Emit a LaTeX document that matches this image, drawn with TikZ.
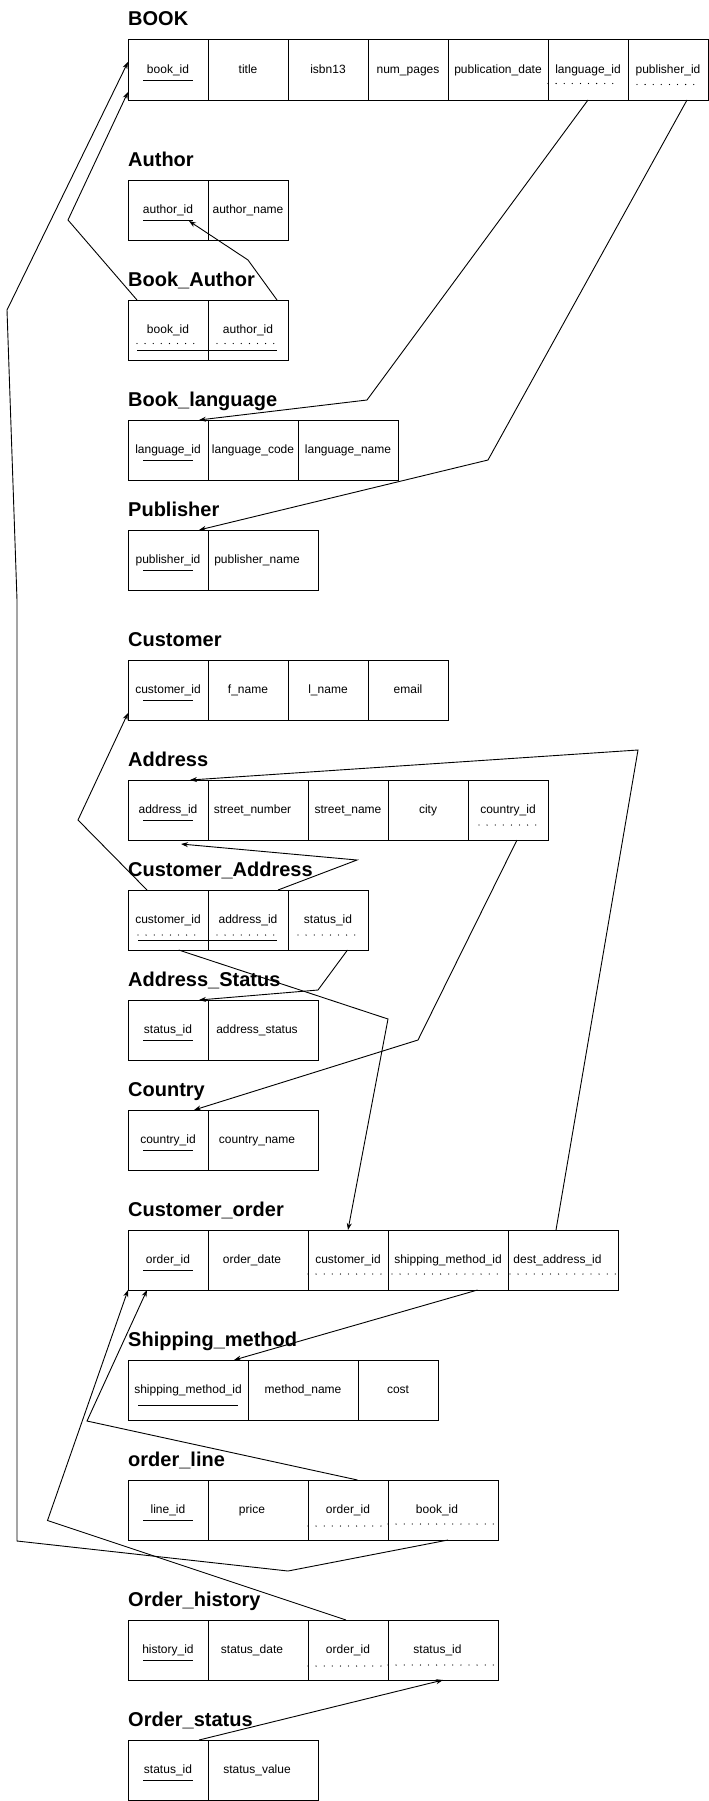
\documentclass[tikz,border=0pt]{standalone}
\usepackage{fontspec}
\setmainfont{Liberation Sans}
\usetikzlibrary{positioning,arrows.meta}

\begin{document}
\begin{tikzpicture}[
  x=1pt, y=-1pt,
  every node/.style={font=\fontsize{12}{14}\selectfont},
  cell/.style={draw, line width=1pt, outer sep=0pt, inner sep=0pt, anchor=north west,
               minimum width=#1, minimum height=60pt, text height=9pt, text depth=2pt},
  cell/.default=80pt,
  pad/.style={execute at end node={\hspace*{#1}}},
  ttl/.style={font=\fontsize{20}{24}\selectfont\bfseries, anchor=base west, inner sep=0pt},
  pk/.style={line width=1pt},
  fk/.style={line width=1.3pt, line cap=round, dash pattern=on 0pt off 8.1pt},
  link/.style={line width=0.9pt, -{Stealth[length=7pt, width=5pt]}}
]
\useasboundingbox (0,0) rectangle (709,1801);

% ---- BOOK ----
\node[ttl] (t-book) at (128,26) {BOOK};
\node[cell] (bk-id) at (128,40) {book\_id};
\node[cell, right=0pt of bk-id] (bk-title) {title};
\node[cell, right=0pt of bk-title] (bk-isbn) {isbn13};
\node[cell, right=0pt of bk-isbn] (bk-pages) {num\_pages};
\node[cell=100pt, right=0pt of bk-pages] (bk-date) {publication\_date};
\node[cell, right=0pt of bk-date] (bk-lang) {language\_id};
\node[cell, right=0pt of bk-lang] (bk-pub) {publisher\_id};

% ---- Author / Book_Author ----
\node[ttl] (t-auth) at (128,166) {Author};
\node[cell] (au-id) at (128,180) {author\_id};
\node[cell, right=0pt of au-id] (au-name) {author\_name};

\node[ttl] (t-bkau) at (128,286) {Book\_Author};
\node[cell] (ba-book) at (128,300) {book\_id};
\node[cell, right=0pt of ba-book] (ba-auth) {author\_id};

% ---- Book_language / Publisher ----
\node[ttl] (t-lang) at (128,406) {Book\_language};
\node[cell] (la-id) at (128,420) {language\_id};
\node[cell=90pt, right=0pt of la-id] (la-code) {language\_code};
\node[cell=100pt, right=0pt of la-code] (la-name) {language\_name};

\node[ttl] (t-pub) at (128,516) {Publisher};
\node[cell] (pu-id) at (128,530) {publisher\_id};
\node[cell=110pt, pad=12pt, right=0pt of pu-id] (pu-name) {publisher\_name};

% ---- Customer / Address ----
\node[ttl] (t-cust) at (128,646) {Customer};
\node[cell] (cu-id) at (128,660) {customer\_id};
\node[cell, right=0pt of cu-id] (cu-fn) {f\_name};
\node[cell, right=0pt of cu-fn] (cu-ln) {l\_name};
\node[cell, right=0pt of cu-ln] (cu-mail) {email};

\node[ttl] (t-addr) at (128,766) {Address};
\node[cell] (ad-id) at (128,780) {address\_id};
\node[cell=100pt, pad=11pt, right=0pt of ad-id] (ad-num) {street\_number};
\node[cell, right=0pt of ad-num] (ad-street) {street\_name};
\node[cell, right=0pt of ad-street] (ad-city) {city};
\node[cell, right=0pt of ad-city] (ad-ctry) {country\_id};

\node[ttl] (t-cuad) at (128,876) {Customer\_Address};
\node[cell] (ca-cust) at (128,890) {customer\_id};
\node[cell, right=0pt of ca-cust] (ca-addr) {address\_id};
\node[cell, right=0pt of ca-addr] (ca-stat) {status\_id};

\node[ttl] (t-adst) at (128,986) {Address\_Status};
\node[cell] (as-id) at (128,1000) {status\_id};
\node[cell=110pt, pad=12pt, right=0pt of as-id] (as-val) {address\_status};

\node[ttl] (t-ctry) at (128,1096) {Country};
\node[cell] (co-id) at (128,1110) {country\_id};
\node[cell=110pt, pad=12pt, right=0pt of co-id] (co-name) {country\_name};

% ---- orders ----
\node[ttl] (t-order) at (128,1216) {Customer\_order};
\node[cell] (or-id) at (128,1230) {order\_id};
\node[cell=100pt, pad=12pt, right=0pt of or-id] (or-date) {order\_date};
\node[cell, right=0pt of or-date] (or-cust) {customer\_id};
\node[cell=120pt, right=0pt of or-cust] (or-ship) {shipping\_method\_id};
\node[cell=110pt, pad=11pt, right=0pt of or-ship] (or-dest) {dest\_address\_id};

\node[ttl] (t-ship) at (128,1346) {Shipping\_method};
\node[cell=120pt] (sm-id) at (128,1360) {shipping\_method\_id};
\node[cell=110pt, right=0pt of sm-id] (sm-name) {method\_name};
\node[cell, right=0pt of sm-name] (sm-cost) {cost};

\node[ttl] (t-line) at (128,1466) {order\_line};
\node[cell] (ol-id) at (128,1480) {line\_id};
\node[cell=100pt, pad=12pt, right=0pt of ol-id] (ol-price) {price};
\node[cell, right=0pt of ol-price] (ol-ord) {order\_id};
\node[cell=110pt, pad=12pt, right=0pt of ol-ord] (ol-book) {book\_id};

\node[ttl] (t-hist) at (128,1606) {Order\_history};
\node[cell] (oh-id) at (128,1620) {history\_id};
\node[cell=100pt, pad=12pt, right=0pt of oh-id] (oh-date) {status\_date};
\node[cell, right=0pt of oh-date] (oh-ord) {order\_id};
\node[cell=110pt, pad=11pt, right=0pt of oh-ord] (oh-stat) {status\_id};

\node[ttl] (t-ost) at (128,1726) {Order\_status};
\node[cell] (os-id) at (128,1740) {status\_id};
\node[cell=110pt, pad=12pt, right=0pt of os-id] (os-val) {status\_value};

% ---- keys: solid = primary, dotted = foreign ----
\foreach \n in {bk-id,au-id,la-id,pu-id,cu-id,ad-id,as-id,co-id,or-id,ol-id,oh-id,os-id}
  \draw[pk] ([shift={(-25,40)}]\n.north) -- ++(50,0);
\draw[pk] ([shift={(-50,45)}]sm-id.north) -- ++(100,0);
\draw[pk] ([shift={(9,50)}]ba-book.north west) -- ([shift={(-11,50)}]ba-auth.north east);
\draw[pk] ([shift={(10,50)}]ca-cust.north west) -- ([shift={(-11,50)}]ca-addr.north east);

\foreach \n/\dx/\dy/\len in {bk-lang/0/43.5/65, bk-pub/9/44.5/57, ba-book/9/43.5/57,
    ba-auth/9/43.5/57, ad-ctry/11/45/57, ca-cust/10/45/57, ca-addr/9/45/57,
    ca-stat/10/45/57, or-cust/0/44/73, or-ship/4/44/106, or-dest/2/44/106,
    ol-ord/0/46/73, ol-book/0/44/106, oh-ord/0/46/73, oh-stat/0/45/106}
  \draw[fk] ([shift={(\dx,\dy)}]\n.north west) -- ++(\len,0);

% ---- links ----
\draw[link] ([shift={(9,0)}]ba-book.north west) -- (68,220) -- ([shift={(0,-8)}]bk-id.south west);
\draw[link] ([shift={(-11,0)}]ba-auth.north east) -- (248,260) -- ([shift={(21,41)}]au-id.north);
\draw[link] (bk-lang.south) -- (367,400) -- ([shift={(-9,0)}]la-id.north east);
\draw[link] ([shift={(19,0)}]bk-pub.south) -- (488,460) -- ([shift={(-9,0)}]pu-id.north east);
\draw[link] ([shift={(5,0)}]ol-book.south) -- (288,1571) -- (17,1541) -- (17,600) -- (7,310)
      -- ([shift={(0,22)}]bk-id.north west);

\draw[link] ([shift={(19,0)}]ca-cust.north west) -- (78,820) -- ([shift={(0,-7)}]cu-id.south west);
\draw[link] ([shift={(-10,0)}]ca-addr.north east) -- (357,860) -- ([shift={(13,4)}]ad-id.south);
\draw[link] ([shift={(19.5,0)}]ca-stat.south) -- (318,990) -- ([shift={(-9,0)}]as-id.north east);
\draw[link] ([shift={(10.7,0)}]ca-cust.south) -- (388,1019) -- (or-cust.north);
\draw[link] ([shift={(9,0)}]ad-ctry.south) -- (418,1040) -- ([shift={(-14,0)}]co-id.north east);

\draw[link] ([shift={(-7,0)}]or-dest.north) -- (638,750) -- ([shift={(22,0)}]ad-id.north);
\draw[link] ([shift={(29.5,0)}]or-ship.south) -- ([shift={(-14,0)}]sm-id.north east);
\draw[link] ([shift={(9.5,0)}]ol-ord.north) -- (87,1421) -- ([shift={(19,0)}]or-id.south west);
\draw[link] ([shift={(-2,0)}]oh-ord.north) -- (47.5,1520.5) -- (or-id.south west);
\draw[link] ([shift={(-9,0)}]os-id.north east) -- (oh-stat.south);

\end{tikzpicture}
\end{document}
